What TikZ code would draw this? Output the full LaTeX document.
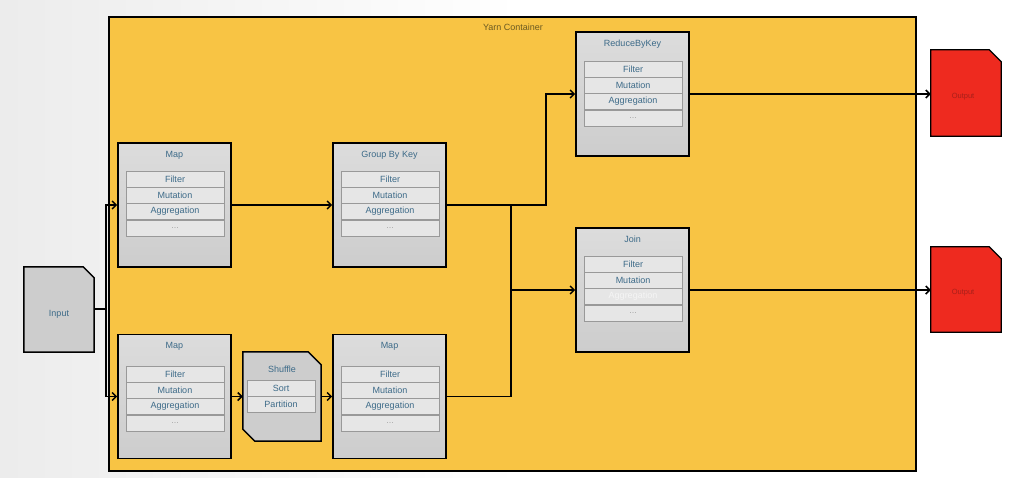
\documentclass[tikz,border=0pt]{standalone}
\usepackage{fontspec}
\setmainfont{Liberation Sans}
\usetikzlibrary{arrows.meta,calc}
\definecolor{yarn}{HTML}{F8C444}
\definecolor{boxgray}{HTML}{CDCDCD}
\definecolor{rowgray}{HTML}{E6E6E6}
\definecolor{txtblue}{HTML}{3C6A88}
\definecolor{outred}{HTML}{EE2A1F}
\definecolor{outtxt}{HTML}{A8201A}
\definecolor{yarntxt}{HTML}{6B5A22}
\tikzset{
  stagebox/.style={draw=black,line width=1.6pt,top color=boxgray!70!white,bottom color=boxgray,minimum width=113pt,minimum height=124pt,inner sep=0pt},
  rowbox/.style={draw=gray!80,line width=0.7pt,fill=rowgray,minimum width=98pt,minimum height=16pt,inner sep=0pt,text=txtblue,font=\fontsize{9}{10}\selectfont},
  smallrow/.style={rowbox,minimum width=68pt},
  titletext/.style={text=txtblue,font=\fontsize{9}{10}\selectfont,inner sep=0pt},
  hidden/.style={draw=none,inner sep=0pt},
  conn/.style={draw=black,line width=1.4pt},
  arr/.style={conn,-{Straight Barb[length=4pt,width=8pt,line width=1.5pt]}},
}
\newcommand{\stagerows}[4]{% name-prefix, cx, first center y, list
  \foreach \lab [count=\i] in {#4} {
    \node[rowbox] (#1r\i) at (#2,{#3+(\i-1)*16.3}) {\lab};
  }
}
\begin{document}
\begin{tikzpicture}[x=1pt,y=-1pt]
\useasboundingbox (0,0) rectangle (1027,477);
\shade[left color=gray!15,right color=white] (0,0) rectangle (520,477);
\fill[white] (520,0) rectangle (1027,477);

% Yarn container
\node[draw=black,line width=1.3pt,fill=yarn,minimum width=807pt,minimum height=454pt,inner sep=0pt] (yarn) at (512.5,244) {};
\node[text=yarntxt,font=\fontsize{9}{10}\selectfont,inner sep=0pt] (yarnlab) at (513,27) {Yarn Container};

% Input (cut corner)
\node[hidden,minimum width=70pt,minimum height=85pt] (input) at (59,309.5) {};
\draw[line width=1.5pt,fill=boxgray] (input.north west) -- ($(input.north east)+(-11,0)$) -- ($(input.north east)+(0,11)$) -- (input.south east) -- (input.south west) -- cycle;
\node[titletext] (inputlab) at (59,314) {Input};

% Map 1
\node[stagebox] (map1) at (174.5,205) {};
\node[titletext] (map1t) at (174.5,155) {Map};
\stagerows{map1}{175}{179}{Filter,Mutation,Aggregation,\textcolor{gray!70}{...}}

% Group By Key
\node[stagebox] (gbk) at (389.5,205) {};
\node[titletext] (gbkt) at (389.5,155) {Group By Key};
\stagerows{gbk}{390}{179}{Filter,Mutation,Aggregation,\textcolor{gray!70}{...}}

% Map 2
\node[stagebox] (map2) at (174.5,396.5) {};
\node[titletext] (map2t) at (174.5,346) {Map};
\stagerows{map2}{175}{374}{Filter,Mutation,Aggregation,\textcolor{gray!70}{...}}

% Shuffle
\node[hidden,minimum width=78pt,minimum height=89pt] (shuf) at (282,396.5) {};
\draw[line width=1.5pt,fill=boxgray] (shuf.north west) -- ($(shuf.north east)+(-13,0)$) -- ($(shuf.north east)+(0,13)$) -- (shuf.south east) -- ($(shuf.south west)+(12,0)$) -- ($(shuf.south west)+(0,-12)$) -- cycle;
\node[titletext] (shuft) at (282,369) {Shuffle};
\node[smallrow] (shufr1) at (281,388) {Sort};
\node[smallrow] (shufr2) at (281,404) {Partition};

% Map 3
\node[stagebox] (map3) at (389.5,396.5) {};
\node[titletext] (map3t) at (389.5,346) {Map};
\stagerows{map3}{390}{374}{Filter,Mutation,Aggregation,\textcolor{gray!70}{...}}

% ReduceByKey
\node[stagebox] (rbk) at (632.5,94) {};
\node[titletext] (rbkt) at (632.5,44) {ReduceByKey};
\stagerows{rbk}{633}{69}{Filter,Mutation,Aggregation,\textcolor{gray!70}{...}}

% Join
\node[stagebox] (join) at (632.5,290) {};
\node[titletext] (joint) at (632.5,239) {Join};
\stagerows{join}{633}{264}{Filter,Mutation,\textcolor{white!92!gray}{Aggregation},\textcolor{gray!70}{...}}

% Outputs
\node[hidden,minimum width=70pt,minimum height=86pt] (out1) at (966,93) {};
\draw[line width=1.2pt,fill=outred] (out1.north west) -- ($(out1.north east)+(-12,0)$) -- ($(out1.north east)+(0,12)$) -- (out1.south east) -- (out1.south west) -- cycle;
\node[text=outtxt,font=\fontsize{7.5}{8}\selectfont,inner sep=0pt] (out1t) at (963,97) {Output};

\node[hidden,minimum width=70pt,minimum height=85pt] (out2) at (966,289.5) {};
\draw[line width=1.2pt,fill=outred] (out2.north west) -- ($(out2.north east)+(-12,0)$) -- ($(out2.north east)+(0,12)$) -- (out2.south east) -- (out2.south west) -- cycle;
\node[text=outtxt,font=\fontsize{7.5}{8}\selectfont,inner sep=0pt] (out2t) at (963,293) {Output};

% Connectors
\coordinate (split) at (106,309);
\coordinate (merge) at (511,290);
\draw[conn] (input.east |- split) -- (split);
\draw[arr] (split) |- (map1.west);
\draw[arr] (split) |- (map2.west);
\draw[arr] (map1.east) -- (gbk.west);
\draw[arr] (map2.east) -- (shuf.west);
\draw[arr] (shuf.east) -- (map3.west);
\draw[arr] (gbk.east) -- (546,205) |- (rbk.west);
\draw[conn] (map3.east) -| (merge |- gbk.east);
\draw[arr] (merge) -- (join.west);
\draw[arr] (rbk.east) -- (rbk.east -| out1.west);
\draw[arr] (join.east) -- (join.east -| out2.west);
\end{tikzpicture}
\end{document}
